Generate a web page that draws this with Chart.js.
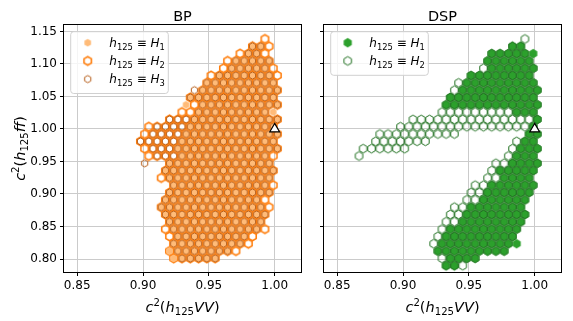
<!DOCTYPE html>
<html>
<head>
<meta charset="utf-8">
<script src="https://cdn.jsdelivr.net/npm/chart.js@4.4.1/dist/chart.umd.min.js"></script>
<style>
  html, body { margin: 0; padding: 0; background: #fff; }
  #wrap { position: relative; width: 573px; height: 321px; }
  canvas { position: absolute; top: 0; }
  #bp { left: 0; width: 310px; height: 321px; }
  #dsp { left: 310px; width: 263px; height: 321px; }
</style>
</head>
<body>
<div id="wrap">
  <canvas id="bp" width="310" height="321"></canvas>
  <canvas id="dsp" width="263" height="321"></canvas>
</div>
<script>
const xRange = [0.84, 1.02];
const yRange = [0.78, 1.16];
const xTicks = [0.85, 0.90, 0.95, 1.00];
const yTicks = [0.80, 0.85, 0.90, 0.95, 1.00, 1.05, 1.10, 1.15];
const smPoint = [{ x: 1.0, y: 1.0 }];

// scan grid of the hexagon markers (rows counted from the bottom, every other row shifted)
const gridDx = 0.0063;
const gridDy = 0.01125;
const gridY0 = 0.7898;
const gridX0 = [0.86975, 0.8666];

// BP cells, top row first: [fromCol, toCol, code], code = 1 (h125=H1) + 2 (H2) + 4 (H3)
const bpRows = [
  [[20, 20, 2]],
  [[18, 19, 7], [20, 20, 2]],
  [[17, 17, 2], [18, 19, 7], [20, 20, 2]],
  [[15, 15, 2], [16, 20, 7]],
  [[15, 15, 2], [16, 20, 7], [21, 21, 2]],
  [[13, 13, 2], [14, 20, 7], [21, 21, 2]],
  [[13, 21, 7]],
  [[11, 11, 4], [12, 21, 7]],
  [[11, 21, 7]],
  [[10, 10, 1], [11, 11, 2], [12, 21, 7]],
  [[10, 11, 2], [12, 20, 7], [21, 21, 1]],
  [[8, 10, 6], [11, 21, 7]],
  [[6, 6, 2], [7, 10, 6], [11, 21, 7]],
  [[5, 5, 2], [6, 9, 6], [10, 21, 7]],
  [[5, 9, 6], [10, 21, 7]],
  [[5, 5, 2], [6, 8, 6], [9, 21, 7]],
  [[6, 6, 2], [7, 9, 6], [10, 20, 7], [21, 21, 2]],
  [[5, 5, 4], [8, 20, 7]],
  [[8, 21, 7]],
  [[7, 7, 2], [8, 20, 7]],
  [[9, 20, 7], [21, 21, 2]],
  [[8, 20, 7]],
  [[8, 19, 7], [20, 20, 2]],
  [[7, 19, 7], [20, 20, 2]],
  [[8, 20, 7]],
  [[8, 19, 7]],
  [[8, 8, 2], [9, 19, 7], [20, 20, 2]],
  [[8, 8, 2], [9, 17, 7], [18, 18, 2]],
  [[9, 17, 7], [18, 18, 2]],
  [[8, 8, 3], [9, 15, 7], [16, 16, 2]],
  [[9, 9, 3], [10, 14, 7]],
  [],
];

// DSP cells, top row first: code = 1 (h125=H1) + 2 (h125=H2)
const dspRows = [
  [[20, 20, 2]],
  [[18, 19, 3]],
  [[16, 20, 3], [21, 21, 1]],
  [[15, 20, 3]],
  [[15, 15, 2], [16, 21, 3]],
  [[13, 20, 3]],
  [[12, 12, 2], [13, 21, 3]],
  [[11, 11, 2], [12, 21, 3]],
  [[11, 21, 3]],
  [[10, 21, 3]],
  [[10, 18, 2], [19, 21, 3]],
  [[6, 20, 2], [21, 21, 3]],
  [[5, 20, 2], [21, 21, 3]],
  [[2, 11, 2], [20, 21, 3]],
  [[2, 8, 2], [19, 19, 2], [20, 21, 3]],
  [[0, 5, 2], [18, 18, 2], [19, 21, 3]],
  [[0, 0, 2], [18, 18, 2], [19, 21, 3]],
  [[16, 17, 2], [18, 21, 3]],
  [[16, 16, 2], [17, 21, 3]],
  [[15, 16, 2], [17, 20, 3]],
  [[14, 15, 2], [16, 21, 3]],
  [[13, 14, 2], [15, 20, 3]],
  [[13, 14, 2], [15, 20, 3]],
  [[11, 12, 2], [13, 19, 3]],
  [[11, 12, 2], [13, 20, 3]],
  [[10, 11, 2], [12, 19, 3]],
  [[10, 10, 2], [11, 19, 3]],
  [[9, 9, 2], [10, 18, 3]],
  [[9, 9, 2], [10, 18, 3], [19, 19, 1]],
  [[9, 17, 3]],
  [[10, 10, 2], [11, 14, 3]],
  [[10, 11, 3], [12, 12, 2]],
];

const FONT = '"DejaVu Sans", sans-serif';
const gridColor = '#cbcbcb';

function cellsOf(rows, bit) {
  const out = [];
  rows.forEach((segs, i) => {
    const r = rows.length - 1 - i;
    for (const [from, to, code] of segs) {
      if (!(code & bit)) continue;
      for (let c = from; c <= to; c++) {
        out.push({ x: gridX0[r % 2] + c * gridDx, y: gridY0 + r * gridDy });
      }
    }
  });
  return out;
}

// pointy-top hexagon drawn once into a small canvas, used as pointStyle
function hexMarker(radius, fill, stroke, lw) {
  const size = 15;
  const cv = document.createElement('canvas');
  cv.width = cv.height = size;
  const g = cv.getContext('2d');
  g.translate(size / 2, size / 2);
  g.beginPath();
  for (let k = 0; k < 6; k++) {
    const a = Math.PI / 2 + k * Math.PI / 3;
    g.lineTo(radius * Math.cos(a), -radius * Math.sin(a));
  }
  g.closePath();
  if (fill) { g.fillStyle = fill; g.fill(); }
  if (stroke) { g.strokeStyle = stroke; g.lineWidth = lw; g.stroke(); }
  return cv;
}

const mk = {
  bp1: hexMarker(3.8, '#ffbb78', null, 0),
  bp2: hexMarker(4.3, null, '#ff7f0e', 1.6),
  bp3: hexMarker(3.6, null, '#b65e1a', 1.0),
  dsp1: hexMarker(4.7, '#2ca02c', null, 0),
  dsp2: hexMarker(4.3, null, '#1f6f1f', 1.0),
};

function drawMath(ctx, parts, x, y, size, align) {
  const fontOf = st => (st === 'it' ? 'italic ' : '') +
    (st === 'sub' || st === 'sup' ? size * 0.7 : size) + 'px ' + FONT;
  let w = 0;
  for (const [t, st] of parts) { ctx.font = fontOf(st); w += ctx.measureText(t).width; }
  let cx = align === 'center' ? x - w / 2 : x;
  ctx.textAlign = 'left';
  ctx.textBaseline = 'alphabetic';
  for (const [t, st] of parts) {
    ctx.font = fontOf(st);
    const dy = st === 'sub' ? size * 0.22 : st === 'sup' ? -size * 0.42 : 0;
    ctx.fillText(t, cx, y + dy);
    cx += ctx.measureText(t).width;
  }
}

const xLabel = [['c', 'it'], ['2', 'sup'], ['(', 'rm'], ['h', 'it'], ['125', 'sub'], ['VV', 'it'], [')', 'rm']];
const yLabel = [['c', 'it'], ['2', 'sup'], ['(', 'rm'], ['h', 'it'], ['125', 'sub'], ['ff', 'it'], [')', 'rm']];
const legendText = n => [['h', 'it'], ['125', 'sub'], [' \u2261 ', 'rm'], ['H', 'it'], [String(n), 'sub']];

function decorations(cfg) {
  return {
    id: 'decorations',
    afterDatasetsDraw(chart) {
      const { ctx, chartArea: a } = chart;
      ctx.save();
      ctx.strokeStyle = '#000';
      ctx.lineWidth = 1;
      ctx.strokeRect(a.left - 0.5, a.top - 0.5, a.right - a.left + 1, a.bottom - a.top + 1);

      ctx.fillStyle = '#000';
      ctx.font = '14.5px ' + FONT;
      ctx.textAlign = 'center';
      ctx.textBaseline = 'alphabetic';
      ctx.fillText(cfg.title, (a.left + a.right) / 2, 20.5);

      drawMath(ctx, xLabel, (a.left + a.right) / 2, 312, 14.5, 'center');
      if (cfg.yLabel) {
        ctx.save();
        ctx.translate(25, (a.top + a.bottom) / 2);
        ctx.rotate(-Math.PI / 2);
        drawMath(ctx, yLabel, 0, 0, 14.5, 'center');
        ctx.restore();
      }

      // legend box
      const bx = a.left + 6.7, by = a.top + 6.7, bw = 97.6;
      const bh = 21.4 + 18.2 * (cfg.legend.length - 1) + 4;
      const rr = 3;
      ctx.beginPath();
      ctx.moveTo(bx + rr, by);
      ctx.arcTo(bx + bw, by, bx + bw, by + bh, rr);
      ctx.arcTo(bx + bw, by + bh, bx, by + bh, rr);
      ctx.arcTo(bx, by + bh, bx, by, rr);
      ctx.arcTo(bx, by, bx + bw, by, rr);
      ctx.closePath();
      ctx.fillStyle = 'rgba(255,255,255,0.8)';
      ctx.fill();
      ctx.strokeStyle = '#d0d0d0';
      ctx.stroke();
      cfg.legend.forEach((marker, i) => {
        const cy = a.top + 17.7 + 18.2 * i;
        ctx.drawImage(marker, a.left + 23.7 - marker.width / 2, cy - marker.height / 2);
        ctx.fillStyle = '#000';
        drawMath(ctx, legendText(i + 1), a.left + 45.3, cy + 4.3, 12, 'left');
      });
      ctx.restore();
    }
  };
}

function scales(showYLabels, yWidth) {
  const tickFont = { family: FONT, size: 12 };
  return {
    x: {
      type: 'linear', min: xRange[0], max: xRange[1],
      afterBuildTicks: s => { s.ticks = xTicks.map(v => ({ value: v })); },
      afterFit: s => { s.height = 49; },
      grid: { color: gridColor, lineWidth: 1, tickColor: '#000', tickLength: 4 },
      border: { display: false },
      ticks: { font: tickFont, color: '#000', padding: 3, autoSkip: false, maxRotation: 0,
        callback: v => v.toFixed(2) },
    },
    y: {
      type: 'linear', min: yRange[0], max: yRange[1],
      afterBuildTicks: s => { s.ticks = yTicks.map(v => ({ value: v })); },
      afterFit: s => { s.width = yWidth; },
      grid: { color: gridColor, lineWidth: 1, tickColor: '#000', tickLength: 4 },
      border: { display: false },
      ticks: { font: tickFont, color: '#000', padding: 3, autoSkip: false,
        callback: v => showYLabels ? v.toFixed(2) : '' },
    },
  };
}

function smDataset() {
  return { data: smPoint, pointStyle: 'triangle', pointRadius: 5.6, backgroundColor: '#fff',
    borderColor: '#000', borderWidth: 1.2, order: 0 };
}

const common = {
  responsive: false,
  animation: false,
  devicePixelRatio: 1,
  events: [],
  plugins: { legend: { display: false }, tooltip: { enabled: false } },
};

new Chart(document.getElementById('bp'), {
  type: 'scatter',
  data: {
    datasets: [
      { label: 'H1', data: cellsOf(bpRows, 1), pointStyle: mk.bp1, pointRadius: 4, order: 2 },
      { label: 'H2', data: cellsOf(bpRows, 2), pointStyle: mk.bp2, pointRadius: 4, order: 3 },
      { label: 'H3', data: cellsOf(bpRows, 4), pointStyle: mk.bp3, pointRadius: 4, order: 1 },
      smDataset(),
    ],
  },
  options: Object.assign({}, common, {
    layout: { padding: { left: 0, right: 9, top: 25, bottom: 0 } },
    scales: scales(true, 64),
  }),
  plugins: [decorations({ title: 'BP', yLabel: true, legend: [mk.bp1, mk.bp2, mk.bp3] })],
});

new Chart(document.getElementById('dsp'), {
  type: 'scatter',
  data: {
    datasets: [
      { label: 'H1', data: cellsOf(dspRows, 1), pointStyle: mk.dsp1, pointRadius: 4, order: 2 },
      { label: 'H2', data: cellsOf(dspRows, 2), pointStyle: mk.dsp2, pointRadius: 4, order: 1 },
      smDataset(),
    ],
  },
  options: Object.assign({}, common, {
    layout: { padding: { left: 0, right: 12, top: 25, bottom: 0 } },
    scales: scales(false, 14),
  }),
  plugins: [decorations({ title: 'DSP', yLabel: false, legend: [mk.dsp1, mk.dsp2] })],
});
</script>
</body>
</html>
